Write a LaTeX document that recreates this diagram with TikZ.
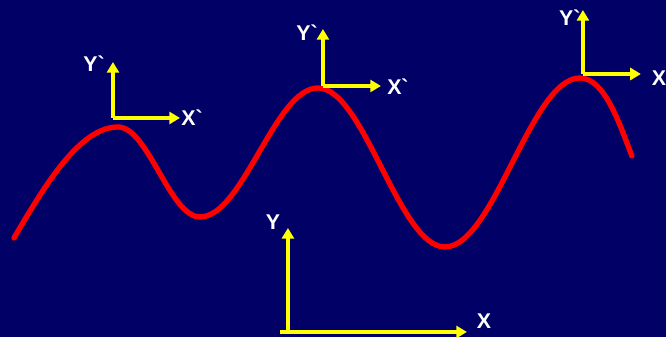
\documentclass[tikz,border=0pt]{standalone}
\usepackage{fontspec}
\newfontfamily\labelfont{Liberation Sans}
\usetikzlibrary{arrows.meta}
\definecolor{slidenavy}{HTML}{000066}
\definecolor{axisyellow}{HTML}{FFFF00}
\definecolor{curvered}{HTML}{FF0000}
\newcommand{\prm}{\symbol{96}}

\begin{document}
\begin{tikzpicture}[x=0.75pt,y=-0.75pt,
    axisline/.style={draw=axisyellow, line width=3pt, -{Triangle[length=8pt,width=9pt]}},
    axislabel/.style={text=white, font=\labelfont\bfseries\fontsize{16}{18}\selectfont, inner sep=0pt}]
  % background
  \fill[slidenavy] (0,0) rectangle (666,337);

  % the curve
  \draw[curvered, line width=4pt, line cap=round]
    (14,238) .. controls (45,185) and (80,127) .. (118,127)
    .. controls (148,127) and (170,217) .. (200,217)
    .. controls (243,217) and (275,88) .. (318,88)
    .. controls (364,88) and (399,247) .. (445,247)
    .. controls (494,247) and (531,78) .. (580,78)
    .. controls (605,78) and (620,125) .. (632,156);

  % moving frames on the curve
  \coordinate (o1) at (113,118);
  \coordinate (y1) at (113,62);
  \coordinate (x1) at (180,118);
  \draw[axisline] (o1) -- (y1);
  \draw[axisline] (o1) -- (x1);
  \node[axislabel] (ly1) at (94,64) {Y\prm};
  \node[axislabel] (lx1) at (192,118) {X\prm};

  \coordinate (o2) at (323,86);
  \coordinate (y2) at (323,29);
  \coordinate (x2) at (381,86);
  \draw[axisline] (o2) -- (y2);
  \draw[axisline] (o2) -- (x2);
  \node[axislabel] (ly2) at (307,33) {Y\prm};
  \node[axislabel] (lx2) at (398,87) {X\prm};

  \coordinate (o3) at (583,74);
  \coordinate (y3) at (583,10);
  \coordinate (x3) at (641,74);
  \draw[axisline] (o3) -- (y3);
  \draw[axisline] (o3) -- (x3);
  \node[axislabel] (ly3) at (570,18) {Y\prm};
  \node[axislabel] (lx3) at (659,78) {X};

  % fixed frame
  \coordinate (o4) at (288,332);
  \coordinate (h4) at (280,332);
  \coordinate (y4) at (288,228);
  \coordinate (x4) at (467,332);
  \draw[axisline] (o4) -- (y4);
  \draw[axisline] (h4) -- (x4);
  \node[axislabel] (ly4) at (273,222) {Y};
  \node[axislabel] (lx4) at (484,321) {X};
\end{tikzpicture}
\end{document}
